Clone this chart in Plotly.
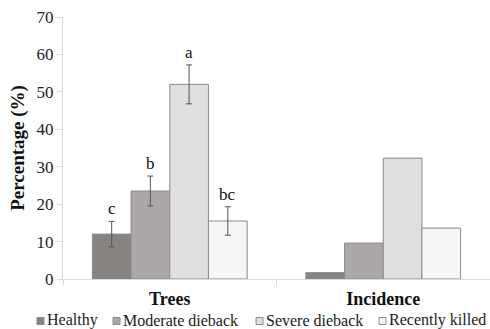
import plotly.graph_objects as go

categories = ["Trees", "Incidence"]
series_names = ["Healthy", "Moderate dieback", "Severe dieback", "Recently killed"]
healthy = [12.0, 1.7]
moderate = [23.5, 9.6]
severe = [52.0, 32.3]
recently_killed = [15.5, 13.6]
# standard errors for the Trees group
healthy_err = 3.4
moderate_err = 4.0
severe_err = 5.2
recently_killed_err = 3.8
# significance letters for the Trees group
letters = ["c", "b", "a", "bc"]

colors = ["#878381", "#aca8a7", "#e0dfe0", "#f6f6f6"]
values = [healthy, moderate, severe, recently_killed]
errors = [healthy_err, moderate_err, severe_err, recently_killed_err]

FONT = "Liberation Serif, Times New Roman, serif"
W, H = 490, 329
L, R, T, B = 63, 0, 17, 50
PW, PH = W - L - R, H - T - B

fig = go.Figure()
for k, (name, vals, err, col) in enumerate(zip(series_names, values, errors, colors)):
    line = dict(color="#8a8a8a", width=1)
    # Trees bar with error bar
    fig.add_trace(go.Bar(
        name=name, x=[categories[0]], y=[vals[0]], marker_color=col, marker_line=line,
        offsetgroup=str(k), legendgroup=name, showlegend=False,
        error_y=dict(type="data", array=[err], color="#555555", thickness=1, width=3),
    ))
    # Incidence bar
    fig.add_trace(go.Bar(
        name=name, x=[categories[1]], y=[vals[1]], marker_color=col, marker_line=line,
        offsetgroup=str(k), legendgroup=name, showlegend=False,
    ))

bargap = 0.275
n = len(series_names)
bw = (1 - bargap) / n
for i, (lab, vals, err) in enumerate(zip(letters, values, errors)):
    xpos = -(1 - bargap) / 2 + bw * (i + 0.5)
    fig.add_annotation(x=xpos, y=vals[0] + err, xref="x", yref="y", text=lab,
                       showarrow=False, yanchor="bottom", yshift=1,
                       font=dict(family=FONT, size=17, color="#111111"))

# legend row below the category labels
def px_x(p):
    return (p - L) / PW

def px_y(p):
    return (H - B - p) / PH

legend_x = [37, 113, 256, 379]
legend_cy = 320
for name, col, x0 in zip(series_names, colors, legend_x):
    fig.add_shape(type="rect", xref="paper", yref="paper",
                  x0=px_x(x0), x1=px_x(x0 + 7), y0=px_y(legend_cy + 4.5), y1=px_y(legend_cy - 2.5),
                  fillcolor=col, line=dict(color="#8a8a8a", width=1))
    fig.add_annotation(x=px_x(x0 + 9), y=px_y(legend_cy), xref="paper", yref="paper",
                       text=name, showarrow=False, xanchor="left", yanchor="middle",
                       borderpad=0, font=dict(family=FONT, size=16, color="#1a1a1a"))

fig.update_layout(
    width=W, height=H,
    margin=dict(l=L, r=R, t=T, b=B, autoexpand=False),
    paper_bgcolor="white", plot_bgcolor="white",
    barmode="group", bargap=bargap, bargroupgap=0,
    font=dict(family=FONT, size=16, color="#1a1a1a"),
    showlegend=False,
    xaxis=dict(showline=True, linecolor="#d9d9d9", linewidth=1,
               ticks="outside", tickson="boundaries", ticklen=5, tickcolor="#d9d9d9",
               tickfont=dict(family=FONT, size=18, color="#111111"),
               ticklabelstandoff=3,
               categoryorder="array", categoryarray=categories,
               tickvals=categories, ticktext=["<b>Trees</b>", "<b>Incidence</b>"],
               range=[-0.5, 1.5]),
    yaxis=dict(range=[0, 70], dtick=10, showgrid=False, zeroline=False,
               showline=True, linecolor="#d9d9d9", linewidth=1,
               ticks="outside", ticklen=5, tickcolor="#d9d9d9",
               tickfont=dict(family=FONT, size=17, color="#222222"),
               title=dict(text="<b>Percentage (%)</b>",
                          font=dict(family=FONT, size=19, color="#111111"),
                          standoff=6)),
)

fig.write_html("out.html")
